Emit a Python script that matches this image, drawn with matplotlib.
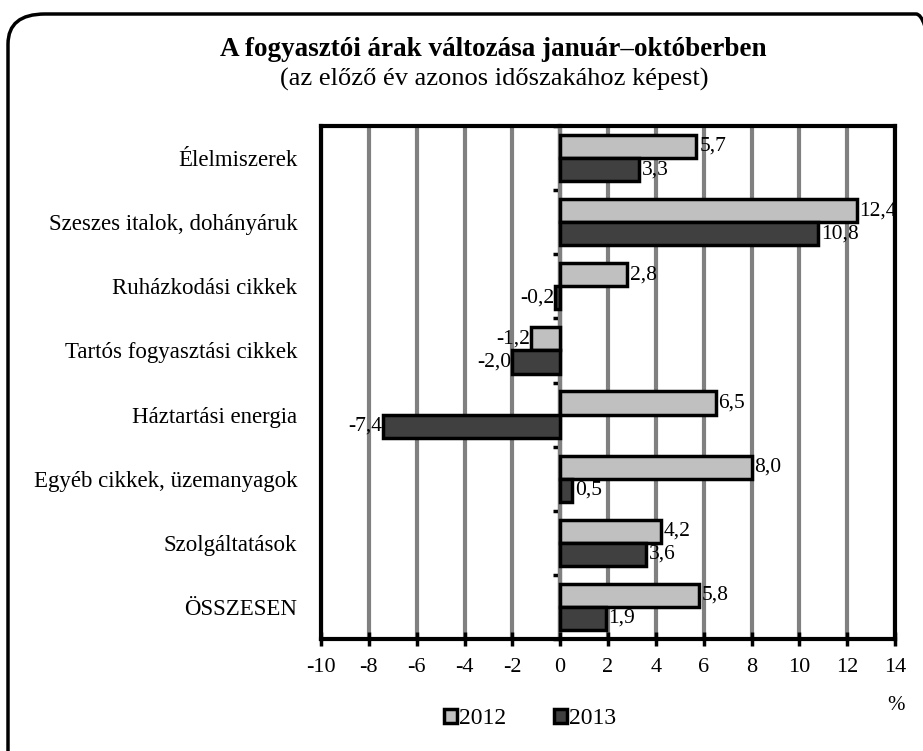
import numpy as np
import matplotlib.pyplot as plt
from matplotlib.patches import FancyBboxPatch

plt.rcParams['font.family'] = ['Liberation Serif', 'DejaVu Serif']

categories = ['Élelmiszerek', 'Szeszes italok, dohányáruk', 'Ruházkodási cikkek',
              'Tartós fogyasztási cikkek', 'Háztartási energia',
              'Egyéb cikkek, üzemanyagok', 'Szolgáltatások', 'ÖSSZESEN']
v2012 = [5.7, 12.4, 2.8, -1.2, 6.5, 8.0, 4.2, 5.8]
v2013 = [3.3, 10.8, -0.2, -2.0, -7.4, 0.5, 3.6, 1.9]
years = ['2012', '2013']
colors = ['#c0c0c0', '#404040']


def fmt(v):
    return f'{v:.1f}'.replace('.', ',')


fig = plt.figure(figsize=(9.23, 7.51), dpi=100)
ax = fig.add_axes([321 / 923, 1 - 639 / 751, (895 - 321) / 923, (639 - 126) / 751])

y = np.arange(len(categories))
h = 0.36
for vals, off, col, lab in [(v2012, -h / 2, colors[0], years[0]),
                            (v2013, h / 2, colors[1], years[1])]:
    bars = ax.barh(y + off, vals, height=h, color=col, edgecolor='black',
                   linewidth=2.5, label=lab, zorder=3)
    for b, v in zip(bars, vals):
        yc = b.get_y() + b.get_height() / 2
        if v >= 0:
            ax.annotate(fmt(v), (v, yc), xytext=(2, 0), textcoords='offset points',
                        ha='left', va='center', fontsize=15.5, zorder=4)
        else:
            ax.annotate(fmt(v), (v, yc), xytext=(-1, 0), textcoords='offset points',
                        ha='right', va='center', fontsize=15.5, zorder=4)

ax.set_xlim(-10, 14)
ax.set_ylim(len(categories) - 0.5, -0.5)
ax.set_xticks(range(-10, 15, 2))
ax.set_xticklabels([str(t) for t in range(-10, 15, 2)], fontsize=16)
ax.tick_params(axis='x', direction='inout', length=10, width=2.5, pad=9)
ax.grid(axis='x', color='#808080', linewidth=3, zorder=0)
ax.set_axisbelow(True)

ax.set_yticks(y)
ax.set_yticklabels(categories, fontsize=16.5)
ax.tick_params(axis='y', length=0, pad=17)

for s in ax.spines.values():
    s.set_linewidth(3)

# category axis at zero
sec = ax.secondary_yaxis(10 / 24)
sec.set_yticks(np.arange(len(categories) + 1) - 0.5)
sec.set_yticklabels([])
sec.tick_params(axis='y', direction='out', length=5, width=2.5)
sec.spines['left'].set_linewidth(3)
sec.spines['left'].set_zorder(5)

fig.text(493 / 923, 1 - 50 / 751, 'A fogyasztói árak változása január–októberben',
         ha='center', va='center', fontsize=19.5, fontweight='bold')
fig.text(494 / 923, 1 - 79 / 751, '(az előző év azonos időszakához képest)',
         ha='center', va='center', fontsize=19)
fig.text(896 / 923, 1 - 705 / 751, '%', ha='center', va='center', fontsize=15)

leg = fig.legend(loc='center', bbox_to_anchor=(530 / 923, 1 - 719 / 751), ncol=2,
                 frameon=False, fontsize=17, handlelength=0.55, handleheight=0.55,
                 handletextpad=0.1, columnspacing=2.0)

box = FancyBboxPatch((8 / 923, -30 / 751), 945 / 923, (737 + 30) / 751,
                     boxstyle='round,pad=0,rounding_size=0.04',
                     transform=fig.transFigure, facecolor='none',
                     edgecolor='black', linewidth=2.5, clip_on=False)
fig.patches.append(box)

fig.savefig('out.png', dpi=100)
